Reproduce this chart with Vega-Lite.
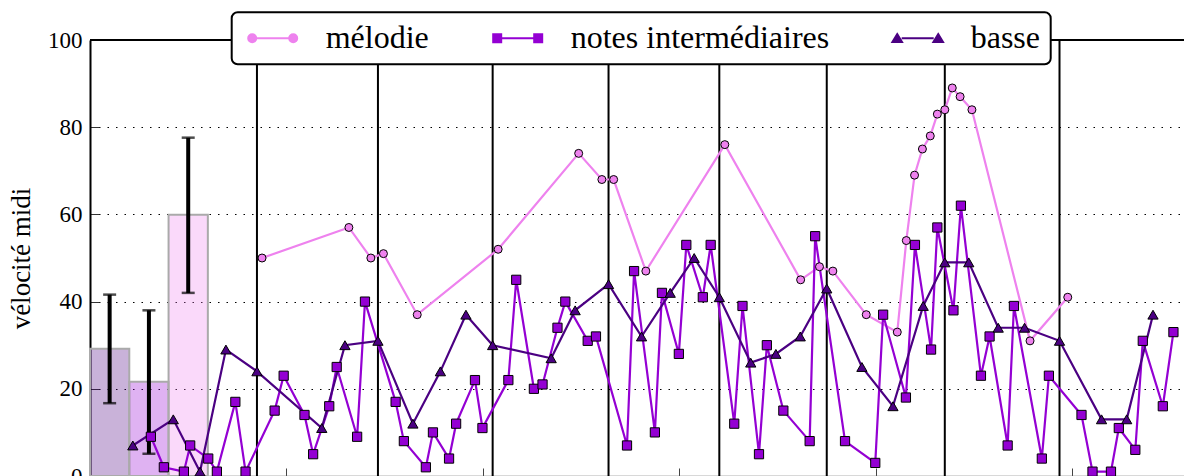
{
  "$schema": "https://vega.github.io/schema/vega-lite/v6.json",
  "width": 1096,
  "height": 436,
  "autosize": {"type": "none"},
  "padding": {"left": 90, "top": 40, "right": 0, "bottom": 0},
  "background": "white",
  "config": {
    "font": "Liberation Serif",
    "view": {"stroke": null},
    "axisY": {
      "zindex": 1,
      "domainColor": "black",
      "domainWidth": 2,
      "tickColor": "#333333",
      "tickWidth": 1,
      "tickSize": -9,
      "tickCount": 5,
      "labelPadding": 17,
      "labelFont": "Liberation Serif",
      "labelFontSize": 23,
      "labelColor": "black",
      "titleFont": "Liberation Serif",
      "titleFontSize": 27,
      "titleFontWeight": "normal",
      "titleColor": "black",
      "titlePadding": 12,
      "grid": true,
      "gridColor": "black",
      "gridWidth": 1,
      "gridDash": [1.5, 7]
    },
    "axisX": {
      "domainColor": "#666666",
      "domainWidth": 1.5,
      "tickColor": "#444444",
      "tickWidth": 1,
      "tickSize": -8,
      "tickCount": 6,
      "labels": false,
      "grid": false
    },
    "legend": {
      "orient": "none",
      "legendX": 141.7,
      "legendY": -27.7,
      "direction": "horizontal",
      "columns": 3,
      "padding": 10,
      "fillColor": "white",
      "strokeColor": "black",
      "strokeWidth": 2,
      "cornerRadius": 6,
      "labelFont": "Liberation Serif",
      "labelFontSize": 32,
      "labelColor": "black",
      "labelLimit": 400,
      "labelOffset": 37,
      "symbolOffset": 15,
      "symbolSize": 400,
      "symbolStrokeWidth": 2,
      "symbolOpacity": 1,
      "columnPadding": 57
    }
  },
  "datasets": {
    "moyennes": [
      {"voix": "basse", "x0": 0, "x1": 1, "xc": 0.5, "m": 29.2, "lo": 16.7, "hi": 41.6},
      {"voix": "notes intermédiaires", "x0": 1, "x1": 2, "xc": 1.5, "m": 21.6, "lo": 5.1, "hi": 38.0},
      {"voix": "mélodie", "x0": 2, "x1": 3, "xc": 2.5, "m": 59.9, "lo": 42.0, "hi": 77.6}
    ],
    "mesures": [
      {"t": 4.25}, {"t": 7.33}, {"t": 10.25}, {"t": 13.2},
      {"t": 16.02}, {"t": 18.755}, {"t": 21.76}, {"t": 24.68}
    ],
    "cadre": [{"v": 100}],
    "voix": [
      {"voix": "mélodie"}, {"voix": "notes intermédiaires"}, {"voix": "basse"}
    ],
    "notes": [
      {"voix": "mélodie", "t": 4.38, "v": 50},
      {"voix": "mélodie", "t": 6.59, "v": 57},
      {"voix": "mélodie", "t": 7.15, "v": 50},
      {"voix": "mélodie", "t": 7.47, "v": 51},
      {"voix": "mélodie", "t": 8.33, "v": 37},
      {"voix": "mélodie", "t": 10.39, "v": 52},
      {"voix": "mélodie", "t": 12.44, "v": 74},
      {"voix": "mélodie", "t": 13.03, "v": 68},
      {"voix": "mélodie", "t": 13.33, "v": 68},
      {"voix": "mélodie", "t": 14.15, "v": 47},
      {"voix": "mélodie", "t": 16.16, "v": 76},
      {"voix": "mélodie", "t": 18.09, "v": 45},
      {"voix": "mélodie", "t": 18.57, "v": 48},
      {"voix": "mélodie", "t": 18.91, "v": 47},
      {"voix": "mélodie", "t": 19.76, "v": 37},
      {"voix": "mélodie", "t": 20.55, "v": 33},
      {"voix": "mélodie", "t": 20.78, "v": 54},
      {"voix": "mélodie", "t": 20.99, "v": 69},
      {"voix": "mélodie", "t": 21.19, "v": 75},
      {"voix": "mélodie", "t": 21.39, "v": 78},
      {"voix": "mélodie", "t": 21.57, "v": 83},
      {"voix": "mélodie", "t": 21.76, "v": 84},
      {"voix": "mélodie", "t": 21.95, "v": 89},
      {"voix": "mélodie", "t": 22.15, "v": 87},
      {"voix": "mélodie", "t": 22.45, "v": 84},
      {"voix": "mélodie", "t": 23.93, "v": 31},
      {"voix": "mélodie", "t": 24.89, "v": 41},

      {"voix": "notes intermédiaires", "t": 1.55, "v": 9},
      {"voix": "notes intermédiaires", "t": 1.88, "v": 2},
      {"voix": "notes intermédiaires", "t": 2.39, "v": 1},
      {"voix": "notes intermédiaires", "t": 2.55, "v": 7},
      {"voix": "notes intermédiaires", "t": 3.01, "v": 4},
      {"voix": "notes intermédiaires", "t": 3.23, "v": 1},
      {"voix": "notes intermédiaires", "t": 3.7, "v": 17},
      {"voix": "notes intermédiaires", "t": 3.96, "v": 1},
      {"voix": "notes intermédiaires", "t": 4.7, "v": 15},
      {"voix": "notes intermédiaires", "t": 4.93, "v": 23},
      {"voix": "notes intermédiaires", "t": 5.46, "v": 14},
      {"voix": "notes intermédiaires", "t": 5.68, "v": 5},
      {"voix": "notes intermédiaires", "t": 6.09, "v": 16},
      {"voix": "notes intermédiaires", "t": 6.28, "v": 25},
      {"voix": "notes intermédiaires", "t": 6.8, "v": 9},
      {"voix": "notes intermédiaires", "t": 7.0, "v": 40},
      {"voix": "notes intermédiaires", "t": 7.78, "v": 17},
      {"voix": "notes intermédiaires", "t": 7.99, "v": 8},
      {"voix": "notes intermédiaires", "t": 8.55, "v": 2},
      {"voix": "notes intermédiaires", "t": 8.73, "v": 10},
      {"voix": "notes intermédiaires", "t": 9.14, "v": 4},
      {"voix": "notes intermédiaires", "t": 9.32, "v": 12},
      {"voix": "notes intermédiaires", "t": 9.8, "v": 22},
      {"voix": "notes intermédiaires", "t": 9.99, "v": 11},
      {"voix": "notes intermédiaires", "t": 10.65, "v": 22},
      {"voix": "notes intermédiaires", "t": 10.85, "v": 45},
      {"voix": "notes intermédiaires", "t": 11.3, "v": 20},
      {"voix": "notes intermédiaires", "t": 11.52, "v": 21},
      {"voix": "notes intermédiaires", "t": 11.9, "v": 34},
      {"voix": "notes intermédiaires", "t": 12.1, "v": 40},
      {"voix": "notes intermédiaires", "t": 12.67, "v": 31},
      {"voix": "notes intermédiaires", "t": 12.88, "v": 32},
      {"voix": "notes intermédiaires", "t": 13.67, "v": 7},
      {"voix": "notes intermédiaires", "t": 13.85, "v": 47},
      {"voix": "notes intermédiaires", "t": 14.38, "v": 10},
      {"voix": "notes intermédiaires", "t": 14.56, "v": 42},
      {"voix": "notes intermédiaires", "t": 14.99, "v": 28},
      {"voix": "notes intermédiaires", "t": 15.18, "v": 53},
      {"voix": "notes intermédiaires", "t": 15.6, "v": 41},
      {"voix": "notes intermédiaires", "t": 15.8, "v": 53},
      {"voix": "notes intermédiaires", "t": 16.4, "v": 12},
      {"voix": "notes intermédiaires", "t": 16.61, "v": 39},
      {"voix": "notes intermédiaires", "t": 17.03, "v": 5},
      {"voix": "notes intermédiaires", "t": 17.23, "v": 30},
      {"voix": "notes intermédiaires", "t": 17.65, "v": 15},
      {"voix": "notes intermédiaires", "t": 18.32, "v": 8},
      {"voix": "notes intermédiaires", "t": 18.46, "v": 55},
      {"voix": "notes intermédiaires", "t": 19.22, "v": 8},
      {"voix": "notes intermédiaires", "t": 19.99, "v": 3},
      {"voix": "notes intermédiaires", "t": 20.19, "v": 37},
      {"voix": "notes intermédiaires", "t": 20.77, "v": 18},
      {"voix": "notes intermédiaires", "t": 21.0, "v": 53},
      {"voix": "notes intermédiaires", "t": 21.41, "v": 29},
      {"voix": "notes intermédiaires", "t": 21.57, "v": 57},
      {"voix": "notes intermédiaires", "t": 21.98, "v": 38},
      {"voix": "notes intermédiaires", "t": 22.17, "v": 62},
      {"voix": "notes intermédiaires", "t": 22.68, "v": 23},
      {"voix": "notes intermédiaires", "t": 22.9, "v": 32},
      {"voix": "notes intermédiaires", "t": 23.36, "v": 7},
      {"voix": "notes intermédiaires", "t": 23.52, "v": 39},
      {"voix": "notes intermédiaires", "t": 24.23, "v": 4},
      {"voix": "notes intermédiaires", "t": 24.41, "v": 23},
      {"voix": "notes intermédiaires", "t": 25.24, "v": 14},
      {"voix": "notes intermédiaires", "t": 25.52, "v": 1},
      {"voix": "notes intermédiaires", "t": 25.99, "v": 1},
      {"voix": "notes intermédiaires", "t": 26.19, "v": 11},
      {"voix": "notes intermédiaires", "t": 26.61, "v": 6},
      {"voix": "notes intermédiaires", "t": 26.8, "v": 31},
      {"voix": "notes intermédiaires", "t": 27.31, "v": 16},
      {"voix": "notes intermédiaires", "t": 27.58, "v": 33},

      {"voix": "basse", "t": 1.09, "v": 7},
      {"voix": "basse", "t": 2.12, "v": 13},
      {"voix": "basse", "t": 2.8, "v": 1},
      {"voix": "basse", "t": 3.46, "v": 29},
      {"voix": "basse", "t": 4.25, "v": 24},
      {"voix": "basse", "t": 5.9, "v": 11},
      {"voix": "basse", "t": 6.49, "v": 30},
      {"voix": "basse", "t": 7.33, "v": 31},
      {"voix": "basse", "t": 8.22, "v": 12},
      {"voix": "basse", "t": 8.92, "v": 24},
      {"voix": "basse", "t": 9.57, "v": 37},
      {"voix": "basse", "t": 10.25, "v": 30},
      {"voix": "basse", "t": 11.74, "v": 27},
      {"voix": "basse", "t": 12.35, "v": 38},
      {"voix": "basse", "t": 13.2, "v": 44},
      {"voix": "basse", "t": 14.04, "v": 32},
      {"voix": "basse", "t": 14.77, "v": 42},
      {"voix": "basse", "t": 15.38, "v": 50},
      {"voix": "basse", "t": 16.02, "v": 41},
      {"voix": "basse", "t": 16.82, "v": 26},
      {"voix": "basse", "t": 17.46, "v": 28},
      {"voix": "basse", "t": 18.08, "v": 32},
      {"voix": "basse", "t": 18.755, "v": 43},
      {"voix": "basse", "t": 19.65, "v": 25},
      {"voix": "basse", "t": 20.44, "v": 16},
      {"voix": "basse", "t": 21.21, "v": 39},
      {"voix": "basse", "t": 21.76, "v": 49},
      {"voix": "basse", "t": 22.37, "v": 49},
      {"voix": "basse", "t": 23.12, "v": 34},
      {"voix": "basse", "t": 23.79, "v": 34},
      {"voix": "basse", "t": 24.68, "v": 31},
      {"voix": "basse", "t": 25.75, "v": 13},
      {"voix": "basse", "t": 26.39, "v": 13},
      {"voix": "basse", "t": 27.06, "v": 37}
    ]
  },
  "layer": [
    {
      "data": {"name": "moyennes"},
      "mark": {"type": "bar", "fillOpacity": 0.3, "stroke": "#aaaaaa", "strokeWidth": 2},
      "encoding": {
        "x": {"field": "x0", "type": "quantitative", "title": null,
              "scale": {"domain": [0, 27.9], "nice": false, "zero": false, "padding": 0}},
        "x2": {"field": "x1"},
        "y": {"field": "m", "type": "quantitative", "title": "vélocité midi",
              "scale": {"domain": [0, 100], "nice": false, "padding": 0}},
        "y2": {"datum": 0},
        "color": {"field": "voix", "type": "nominal", "legend": null,
                  "scale": {"domain": ["basse", "mélodie", "notes intermédiaires"],
                            "range": ["#4b0082", "#ee82ee", "#9400d3"]}}
      }
    },
    {
      "data": {"name": "moyennes"},
      "mark": {"type": "rule", "color": "black", "strokeWidth": 4},
      "encoding": {
        "x": {"field": "xc", "type": "quantitative", "title": null},
        "y": {"field": "lo", "type": "quantitative", "title": "vélocité midi"},
        "y2": {"field": "hi"}
      }
    },
    {
      "data": {"name": "moyennes"},
      "mark": {"type": "tick", "orient": "horizontal", "color": "black", "size": 13, "thickness": 2.5},
      "encoding": {
        "x": {"field": "xc", "type": "quantitative", "title": null},
        "y": {"field": "lo", "type": "quantitative", "title": "vélocité midi"}
      }
    },
    {
      "data": {"name": "moyennes"},
      "mark": {"type": "tick", "orient": "horizontal", "color": "black", "size": 13, "thickness": 2.5},
      "encoding": {
        "x": {"field": "xc", "type": "quantitative", "title": null},
        "y": {"field": "hi", "type": "quantitative", "title": "vélocité midi"}
      }
    },
    {
      "data": {"name": "mesures"},
      "mark": {"type": "rule", "color": "black", "strokeWidth": 2},
      "encoding": {
        "x": {"field": "t", "type": "quantitative", "title": null}
      }
    },
    {
      "data": {"name": "cadre"},
      "mark": {"type": "rule", "color": "black", "strokeWidth": 2},
      "encoding": {
        "y": {"field": "v", "type": "quantitative", "title": "vélocité midi"}
      }
    },
    {
      "data": {"name": "notes"},
      "mark": {"type": "line", "strokeWidth": 2.2},
      "encoding": {
        "x": {"field": "t", "type": "quantitative", "title": null},
        "y": {"field": "v", "type": "quantitative", "title": "vélocité midi"},
        "color": {"field": "voix", "type": "nominal", "legend": null}
      }
    },
    {
      "data": {"name": "notes"},
      "transform": [{"filter": "datum.voix === 'mélodie'"}],
      "mark": {"type": "point", "shape": "circle", "filled": true, "fill": "#ee82ee",
               "opacity": 1, "stroke": "black", "strokeWidth": 1, "size": 64},
      "encoding": {
        "x": {"field": "t", "type": "quantitative", "title": null},
        "y": {"field": "v", "type": "quantitative", "title": "vélocité midi"}
      }
    },
    {
      "data": {"name": "notes"},
      "transform": [{"filter": "datum.voix === 'notes intermédiaires'"}],
      "mark": {"type": "point", "shape": "square", "filled": true, "fill": "#9400d3",
               "opacity": 1, "stroke": "black", "strokeWidth": 1, "size": 85},
      "encoding": {
        "x": {"field": "t", "type": "quantitative", "title": null},
        "y": {"field": "v", "type": "quantitative", "title": "vélocité midi"}
      }
    },
    {
      "data": {"name": "notes"},
      "transform": [{"filter": "datum.voix === 'basse'"}],
      "mark": {"type": "point", "shape": "triangle-up", "filled": true, "fill": "#4b0082",
               "opacity": 1, "stroke": "black", "strokeWidth": 1, "size": 105},
      "encoding": {
        "x": {"field": "t", "type": "quantitative", "title": null},
        "y": {"field": "v", "type": "quantitative", "title": "vélocité midi"}
      }
    },
    {
      "data": {"name": "voix"},
      "mark": {"type": "point", "filled": true, "opacity": 0},
      "encoding": {
        "fill": {"field": "voix", "type": "nominal", "legend": {"title": null},
                 "scale": {"domain": ["mélodie", "notes intermédiaires", "basse"],
                           "range": ["#ee82ee", "#9400d3", "#4b0082"]}},
        "stroke": {"field": "voix", "type": "nominal", "legend": {"title": null},
                   "scale": {"domain": ["mélodie", "notes intermédiaires", "basse"],
                             "range": ["#ee82ee", "#9400d3", "#4b0082"]}},
        "shape": {"field": "voix", "type": "nominal", "legend": {"title": null},
                  "scale": {"domain": ["mélodie", "notes intermédiaires", "basse"],
                            "range": [
                              "M-1.6,0L1.6,0M-2.45,0C-2.45,-0.221 -2.271,-0.4 -2.05,-0.4C-1.829,-0.4 -1.65,-0.221 -1.65,0C-1.65,0.221 -1.829,0.4 -2.05,0.4C-2.271,0.4 -2.45,0.221 -2.45,0ZM1.65,0C1.65,-0.221 1.829,-0.4 2.05,-0.4C2.271,-0.4 2.45,-0.221 2.45,0C2.45,0.221 2.271,0.4 2.05,0.4C1.829,0.4 1.65,0.221 1.65,0Z",
                              "M-1.65,0L1.65,0M-2.45,-0.4L-1.65,-0.4L-1.65,0.4L-2.45,0.4ZM1.65,-0.4L2.45,-0.4L2.45,0.4L1.65,0.4Z",
                              "M-1.6,0L1.6,0M-2.05,-0.42L-1.57,0.38L-2.53,0.38ZM2.05,-0.42L2.53,0.38L1.57,0.38Z"
                            ]}}
      }
    }
  ]
}
